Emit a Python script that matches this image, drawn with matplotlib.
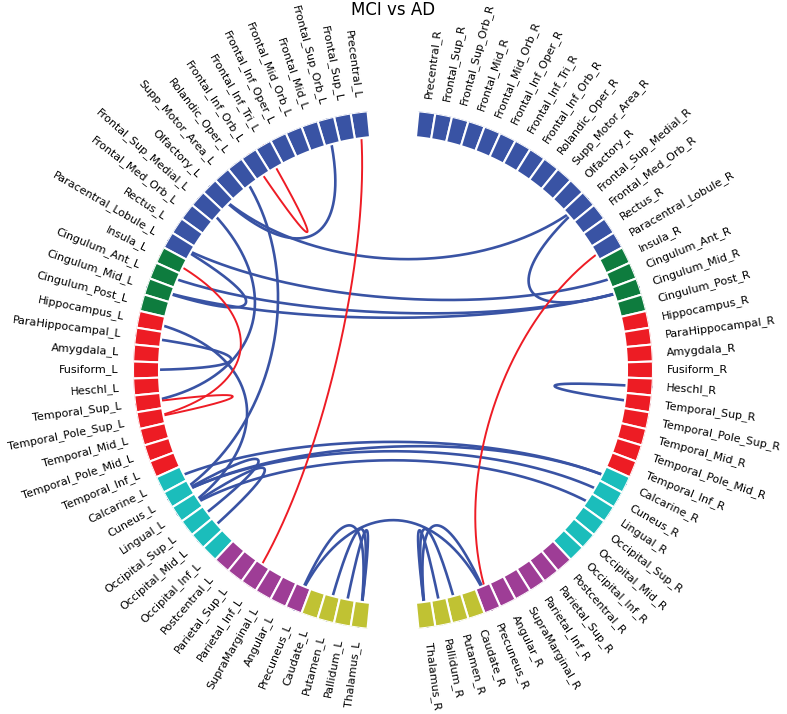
import numpy as np
import matplotlib
matplotlib.use("Agg")
from matplotlib import pyplot as plt

# AAL regions, one hemisphere, in ring order (top -> bottom)
regions = ['Precentral', 'Frontal_Sup', 'Frontal_Sup_Orb', 'Frontal_Mid',
           'Frontal_Mid_Orb', 'Frontal_Inf_Oper', 'Frontal_Inf_Tri',
           'Frontal_Inf_Orb', 'Rolandic_Oper', 'Supp_Motor_Area', 'Olfactory',
           'Frontal_Sup_Medial', 'Frontal_Med_Orb', 'Rectus',
           'Paracentral_Lobule', 'Insula', 'Cingulum_Ant', 'Cingulum_Mid',
           'Cingulum_Post', 'Hippocampus', 'ParaHippocampal', 'Amygdala',
           'Fusiform', 'Heschl', 'Temporal_Sup', 'Temporal_Pole_Sup',
           'Temporal_Mid', 'Temporal_Pole_Mid', 'Temporal_Inf', 'Calcarine',
           'Cuneus', 'Lingual', 'Occipital_Sup', 'Occipital_Mid',
           'Occipital_Inf', 'Postcentral', 'Parietal_Sup', 'Parietal_Inf',
           'SupraMarginal', 'Angular', 'Precuneus', 'Caudate', 'Putamen',
           'Pallidum', 'Thalamus']
group_sizes = [15, 4, 10, 6, 6, 4]
group_colors = ['#3953a4', '#0e7c3e', '#ed1c24', '#1bbdbb', '#9e3d96', '#c0c233']

blue_edges = [
    ('Frontal_Sup_Orb_L', 'Olfactory_L'),
    ('Olfactory_L', 'Frontal_Sup_Medial_R'),
    ('Frontal_Sup_Medial_R', 'Cingulum_Mid_R'),
    ('Paracentral_Lobule_L', 'Cingulum_Mid_L'),
    ('Paracentral_Lobule_L', 'Cingulum_Ant_R'),
    ('Cingulum_Ant_L', 'Cingulum_Mid_R'),
    ('Cingulum_Mid_L', 'Cingulum_Mid_R'),
    ('Rolandic_Oper_L', 'Cuneus_L'),
    ('Frontal_Sup_Medial_L', 'Temporal_Sup_L'),
    ('Hippocampus_L', 'Lingual_L'),
    ('ParaHippocampal_L', 'Fusiform_L'),
    ('Heschl_R', 'Temporal_Sup_R'),
    ('Calcarine_L', 'Calcarine_R'),
    ('Cuneus_L', 'Cuneus_R'),
    ('Cuneus_L', 'Calcarine_R'),
    ('Lingual_L', 'Lingual_R'),
    ('Cuneus_L', 'Occipital_Sup_L'),
    ('Lingual_L', 'Occipital_Mid_L'),
    ('Thalamus_L', 'Putamen_L'),
    ('Thalamus_L', 'Pallidum_L'),
    ('Thalamus_L', 'Precuneus_L'),
    ('Thalamus_R', 'Putamen_R'),
    ('Thalamus_R', 'Pallidum_R'),
    ('Thalamus_R', 'Precuneus_R'),
    ('Precuneus_L', 'Precuneus_R'),
]
red_edges = [
    ('Precentral_L', 'Parietal_Inf_L'),
    ('Frontal_Inf_Tri_L', 'Frontal_Inf_Orb_L'),
    ('Paracentral_Lobule_R', 'Precuneus_R'),
    ('Insula_L', 'Temporal_Pole_Sup_L'),
    ('Temporal_Sup_L', 'Temporal_Pole_Sup_L'),
]

step = 3.75
angles = {}
colors = {}
cols = np.repeat(group_colors, group_sizes)
for i, r in enumerate(regions):
    angles[r + '_L'] = 90 + step * 2 + step * i
    angles[r + '_R'] = 90 - step * 2 - step * i
    colors[r + '_L'] = cols[i]
    colors[r + '_R'] = cols[i]

fig = plt.figure(figsize=(7.87, 7.14), dpi=100)
ax = fig.add_axes([133 / 787, 84 / 714, 520 / 787, 520 / 714], polar=True)
ax.set_ylim(0, 10)
ax.set_axis_off()

tt = np.linspace(0, 1, 200)[:, None]


def draw(edges, color, lw):
    # cubic bezier through the centre, like mne's connectivity circle
    for a, b in edges:
        t0 = np.deg2rad(angles[a])
        t1 = np.deg2rad(angles[b])
        p = [r * np.array([np.cos(t), np.sin(t)])
             for t, r in [(t0, 10), (t0, 5), (t1, 5), (t1, 10)]]
        xy = ((1 - tt) ** 3 * p[0] + 3 * (1 - tt) ** 2 * tt * p[1]
              + 3 * (1 - tt) * tt ** 2 * p[2] + tt ** 3 * p[3])
        ax.plot(np.arctan2(xy[:, 1], xy[:, 0]), np.hypot(xy[:, 0], xy[:, 1]),
                color=color, lw=lw, zorder=1, solid_capstyle='round')


draw(blue_edges, '#3953a4', 1.9)
draw(red_edges, '#ee1c25', 1.4)

names = list(angles.keys())
th = np.deg2rad([angles[k] for k in names])
ax.bar(th, np.ones(len(names)), width=np.deg2rad(step), bottom=9,
       color=[colors[k] for k in names], edgecolor='white', linewidth=1.5,
       align='center', zorder=3)

for k in names:
    a = angles[k]
    if a < 90:
        rot, ha = a, 'left'
    else:
        rot, ha = a - 180, 'right'
    ax.text(np.deg2rad(a), 10.55, k, fontsize=8, rotation=rot,
            rotation_mode='anchor', ha=ha, va='center', color='black')

fig.text(0.5, 1 - 10 / 714, 'MCI vs AD', fontsize=12, ha='center', va='center')

fig.savefig('out.png', dpi=100, facecolor='white')
